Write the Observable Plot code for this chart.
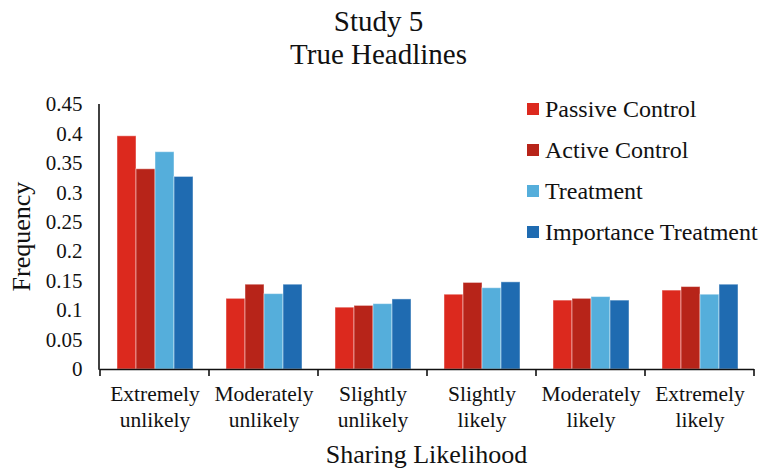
<!DOCTYPE html>
<html>
<head>
<meta charset="utf-8">
<script src="https://cdn.jsdelivr.net/npm/d3@7"></script>
<script src="https://cdn.jsdelivr.net/npm/@observablehq/plot@0.6"></script>
<style>
  html, body { margin: 0; padding: 0; background: white; }
  #wrap { position: relative; width: 763px; height: 471px; font-family: "Liberation Serif", "Times New Roman", serif; color: #111; overflow: hidden; }
  #title { box-sizing: border-box; width: 763px; height: 72px; padding-top: 5px; padding-right: 6px; text-align: center; font-size: 29px; line-height: 33px; font-family: "Liberation Serif", serif; }
  #legend { position: absolute; left: 0; top: 0; }
  .lrow { position: absolute; left: 527px; height: 28px; line-height: 28px; font-size: 24px; white-space: nowrap; font-family: "Liberation Serif", serif; }
  .lsw { position: absolute; left: 0; top: 8px; width: 12px; height: 12px; }
  .ltx { position: absolute; left: 18px; top: 0; }
</style>
</head>
<body>
<div id="wrap">
  <div id="title">Study 5<br>True Headlines</div>
  <div id="chart"></div>
  <div id="legend"></div>
</div>
<script>
const titleLines = ["Study 5", "True Headlines"];
const categories = ["Extremely unlikely", "Moderately unlikely", "Slightly unlikely", "Slightly likely", "Moderately likely", "Extremely likely"];
const categoryLabels = ["Extremely\nunlikely", "Moderately\nunlikely", "Slightly\nunlikely", "Slightly\nlikely", "Moderately\nlikely", "Extremely\nlikely"];
const series = ["Passive Control", "Active Control", "Treatment", "Importance Treatment"];
const colors = ["#dc291e", "#b72419", "#55aedb", "#1f6bb1"];
const passiveControl = [0.396, 0.120, 0.105, 0.127, 0.117, 0.134];
const activeControl = [0.340, 0.144, 0.108, 0.147, 0.120, 0.140];
const treatment = [0.369, 0.128, 0.111, 0.138, 0.123, 0.127];
const importanceTreatment = [0.327, 0.144, 0.119, 0.148, 0.117, 0.144];
const yTicks = [0, 0.05, 0.1, 0.15, 0.2, 0.25, 0.3, 0.35, 0.4, 0.45];
const yTickLabels = ["0", "0.05", "0.1", "0.15", "0.2", "0.25", "0.3", "0.35", "0.4", "0.45"];
const yLabel = "Frequency";
const xLabel = "Sharing Likelihood";

const seriesValues = [passiveControl, activeControl, treatment, importanceTreatment];
const rows = categories.flatMap((c, i) => series.map((s, j) => ({category: c, series: s, value: seriesValues[j][i]})));

const W = 763, H = 399;
const chart = Plot.plot({
  width: W, height: H,
  marginLeft: 99, marginRight: 9, marginTop: 32, marginBottom: 102,
  style: {fontFamily: "Liberation Serif", fontSize: "21px", background: "white", color: "#111", overflow: "visible"},
  fx: {domain: categories, padding: 0, axis: null},
  x: {domain: series, paddingInner: 0, paddingOuter: 0.75, axis: null},
  y: {domain: [0, 0.45]},
  color: {domain: series, range: colors},
  marks: [
    Plot.barY(rows, {fx: "category", x: "series", y: "value", fill: "series", stroke: "white", strokeOpacity: 0.45, strokeWidth: 1}),
    Plot.ruleY([0], {stroke: "#111", strokeWidth: 1.6}),
    Plot.axisY({ticks: yTicks, tickFormat: d => yTickLabels[yTicks.indexOf(d)], tickSize: 0, tickPadding: 18, label: null, fontSize: 21}),
    Plot.text(categories, {fx: d => d, text: d => categoryLabels[categories.indexOf(d)], frameAnchor: "bottom", lineAnchor: "top", dy: 14, fontSize: 21.5, lineHeight: 1.17, fill: "#111"})
  ]
});
document.getElementById("chart").appendChild(chart);

const svg = d3.select(chart);

// axis lines, boundary ticks and axis titles, placed with the plot's own scales
const y = chart.scale("y"), fx = chart.scale("fx");
const g = svg.append("g").style("font-family", "'Liberation Serif', serif");
const y0 = y.apply(0), yTop = y.apply(0.45);
const left = fx.range[0], right = fx.range[1];
g.append("line").attr("x1", left).attr("x2", left).attr("y1", yTop).attr("y2", y0 + 0.8)
  .attr("stroke", "#111").attr("stroke-width", 1.6);
const bounds = categories.map(c => fx.apply(c)).concat([right]);
g.selectAll("line.bt").data(bounds).join("line").attr("class", "bt")
  .attr("x1", d => d).attr("x2", d => d).attr("y1", y0).attr("y2", y0 + 7)
  .attr("stroke", "#111").attr("stroke-width", 1.6);
g.append("text").text(xLabel).attr("x", (left + right) / 2).attr("y", 391)
  .attr("text-anchor", "middle").attr("font-size", 26).attr("fill", "#111");
g.append("text").text(yLabel).attr("transform", `translate(30,${(y0 + yTop) / 2}) rotate(-90)`)
  .attr("text-anchor", "middle").attr("font-size", 26).attr("fill", "#111");

// legend
const legend = d3.select("#legend");
series.forEach((s, i) => {
  const row = legend.append("div").attr("class", "lrow").style("top", (95 + 41 * i) + "px");
  row.append("div").attr("class", "lsw").style("background", colors[i]);
  row.append("div").attr("class", "ltx").text(s);
});
</script>
</body>
</html>
